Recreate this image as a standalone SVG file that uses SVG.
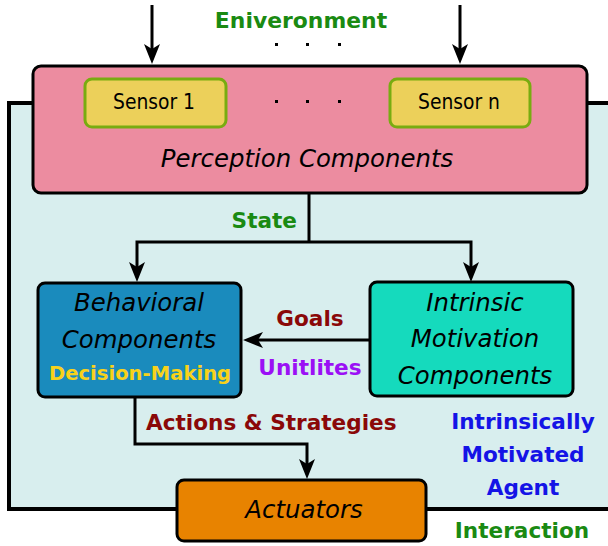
<svg xmlns="http://www.w3.org/2000/svg" width="608" height="546" viewBox="0 0 608 546">
<defs>
<marker id="ah" markerUnits="userSpaceOnUse" viewBox="0 0 20 16" markerWidth="20" markerHeight="16" refX="12" refY="8" orient="auto">
<path d="M0,0 L20,8 L0,16 L5,8 Z" fill="#000"/>
</marker>
</defs>
<style>
text{font-family:"DejaVu Sans","Liberation Sans",sans-serif}
.box{stroke:#000;stroke-width:3}
.sensor{fill:#ecd05a;stroke:#78ac10;stroke-width:3}
.it{font-style:italic;font-size:24.4px;fill:#000}
.b{font-weight:bold;font-size:21.6px}
.reg{font-family:"DejaVu Sans Condensed","DejaVu Sans",sans-serif;font-stretch:condensed;font-size:20.8px;fill:#000}
.con{fill:none;stroke:#000;stroke-width:3;marker-end:url(#ah)}
.line{fill:none;stroke:#000;stroke-width:3}
.green{fill:#1a8a12}
.red{fill:#8a0808}
.dot{fill:#000}
</style>
<rect width="608" height="546" fill="#fff"/>
<g id="agent">
<rect x="9" y="103" width="610" height="406" fill="#d8eeee" stroke="#000" stroke-width="4"/>
<text class="b" x="523" y="429" text-anchor="middle" fill="#1414e6">Intrinsically</text>
<text class="b" x="523" y="462" text-anchor="middle" fill="#1414e6">Motivated</text>
<text class="b" x="523" y="495" text-anchor="middle" fill="#1414e6">Agent</text>
</g>
<g id="environment">
<text class="b green" x="301" y="28" text-anchor="middle" style="font-size:21.9px">Eniveronment</text>
<rect class="dot" x="275" y="43" width="3" height="3"/>
<rect class="dot" x="306" y="43" width="3" height="3"/>
<rect class="dot" x="338" y="43" width="3" height="3"/>
</g>
<g id="connectors">
<path class="con" d="M152,5 V56"/>
<path class="con" d="M460,5 V56"/>
<path class="line" d="M309,194 V242"/>
<path class="con" d="M309,242 H137 V274"/>
<path class="con" d="M309,242 H471 V274"/>
<path class="con" d="M370,340 H251"/>
<path class="con" d="M135,397 V444 H307 V471"/>
<text class="b green" x="297" y="228" text-anchor="end">State</text>
<text class="b red" x="310" y="326" text-anchor="middle">Goals</text>
<text class="b" x="310" y="375" text-anchor="middle" fill="#9b10f5">Unitlites</text>
<text class="b red" x="146" y="430">Actions &amp; Strategies</text>
<text class="b green" x="522" y="538" text-anchor="middle">Interaction</text>
</g>
<g id="perception">
<rect class="box" x="33" y="66" width="554" height="127" rx="8" fill="#ec8ca0"/>
<text class="it" x="307" y="167" text-anchor="middle">Perception Components</text>
<rect class="dot" x="275" y="100" width="3" height="3"/>
<rect class="dot" x="306" y="100" width="3" height="3"/>
<rect class="dot" x="338" y="100" width="3" height="3"/>
</g>
<g id="sensor1">
<rect class="sensor" x="85" y="79" width="141" height="48" rx="7"/>
<text class="reg" x="154" y="109" text-anchor="middle">Sensor 1</text>
</g>
<g id="sensorn">
<rect class="sensor" x="390" y="79" width="140" height="48" rx="7"/>
<text class="reg" x="459" y="109" text-anchor="middle">Sensor n</text>
</g>
<g id="behavioral">
<rect class="box" x="38" y="283" width="203" height="114" rx="7" fill="#1a8bbd"/>
<text class="it" x="139" y="311" text-anchor="middle">Behavioral</text>
<text class="it" x="139" y="348" text-anchor="middle">Components</text>
<text class="b" x="140" y="380" text-anchor="middle" fill="#f8d21a" style="font-size:19.6px">Decision-Making</text>
</g>
<g id="intrinsic">
<rect class="box" x="370" y="282" width="203" height="114" rx="7" fill="#15dabd"/>
<text class="it" x="475" y="311" text-anchor="middle">Intrinsic</text>
<text class="it" x="475" y="347" text-anchor="middle">Motivation</text>
<text class="it" x="475" y="384" text-anchor="middle">Components</text>
</g>
<g id="actuators">
<rect class="box" x="177" y="480" width="249" height="61" rx="7" fill="#e88300"/>
<text class="it" x="304" y="518" text-anchor="middle">Actuators</text>
</g>
</svg>
